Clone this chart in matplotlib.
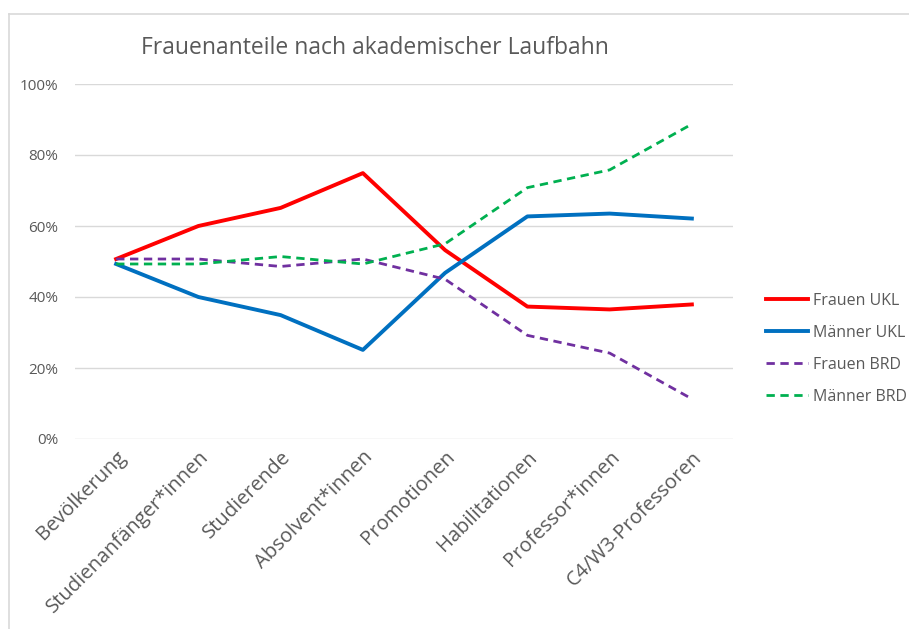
import matplotlib
matplotlib.use('Agg')
import matplotlib.pyplot as plt
from matplotlib.lines import Line2D
from matplotlib.ticker import FuncFormatter

# Daten
kategorien = ['Bevölkerung', 'Studienanfänger*innen', 'Studierende', 'Absolvent*innen',
              'Promotionen', 'Habilitationen', 'Professor*innen', 'C4/W3-Professoren']
frauen_ukl = [50.7, 60.0, 65.1, 74.9, 53.2, 37.3, 36.5, 37.9]
maenner_ukl = [49.3, 40.0, 34.9, 25.1, 46.8, 62.7, 63.5, 62.1]
frauen_brd = [50.7, 50.7, 48.6, 50.7, 45.0, 29.2, 24.2, 11.3]
maenner_brd = [49.3, 49.3, 51.4, 49.3, 55.0, 70.8, 75.8, 88.7]

plt.rcParams['font.family'] = ['Open Sans', 'DejaVu Sans']
grau = '#595959'

W, H = 909, 629
fig = plt.figure(figsize=(W / 100, H / 100), dpi=100)
ax = fig.add_axes([75 / W, 1 - 439 / H, (733 - 75) / W, (439 - 84) / H])

x = list(range(len(kategorien)))
ax.plot(x, frauen_ukl, color='#ff0000', lw=2.8, label='Frauen UKL')
ax.plot(x, maenner_ukl, color='#0070c0', lw=2.8, label='Männer UKL')
ax.plot(x, frauen_brd, color='#7030a0', lw=2.0, ls=(0, (3, 2)), label='Frauen BRD')
ax.plot(x, maenner_brd, color='#00b050', lw=2.0, ls=(0, (3, 2)), label='Männer BRD')

ax.set_xlim(-0.5, len(kategorien) - 0.5)
ax.set_ylim(0, 100)
ax.set_yticks([0, 20, 40, 60, 80, 100])
ax.yaxis.set_major_formatter(FuncFormatter(lambda v, p: f'{v:.0f}%'))
ax.grid(axis='y', color='#d9d9d9', lw=1)
ax.set_axisbelow(True)
for s in ax.spines.values():
    s.set_visible(False)
ax.tick_params(length=0)
ax.tick_params(axis='y', labelsize=11, colors=grau, pad=12)
ax.set_xticks(x)
ax.set_xticklabels(kategorien, rotation=45, ha='right', rotation_mode='anchor',
                   fontsize=14.5, color=grau)
ax.tick_params(axis='x', pad=6)

fig.text(375 / W, 1 - 48 / H, 'Frauenanteile nach akademischer Laufbahn',
         ha='center', va='center', fontsize=16.5, color=grau)

leg = fig.legend(loc='center left', bbox_to_anchor=(752 / W, 1 - 349 / H), frameon=False,
                 fontsize=11.5, labelcolor=grau, handlelength=2.6, labelspacing=1.0,
                 handletextpad=0.3)

# Rahmen (nur links und oben sichtbar)
fig.add_artist(Line2D([9 / W, 9 / W], [0, 1 - 14 / H], transform=fig.transFigure,
                      color='#d9d9d9', lw=1.2))
fig.add_artist(Line2D([9 / W, 1], [1 - 14 / H, 1 - 14 / H], transform=fig.transFigure,
                      color='#d9d9d9', lw=1.2))

fig.savefig('out.png', dpi=100)
